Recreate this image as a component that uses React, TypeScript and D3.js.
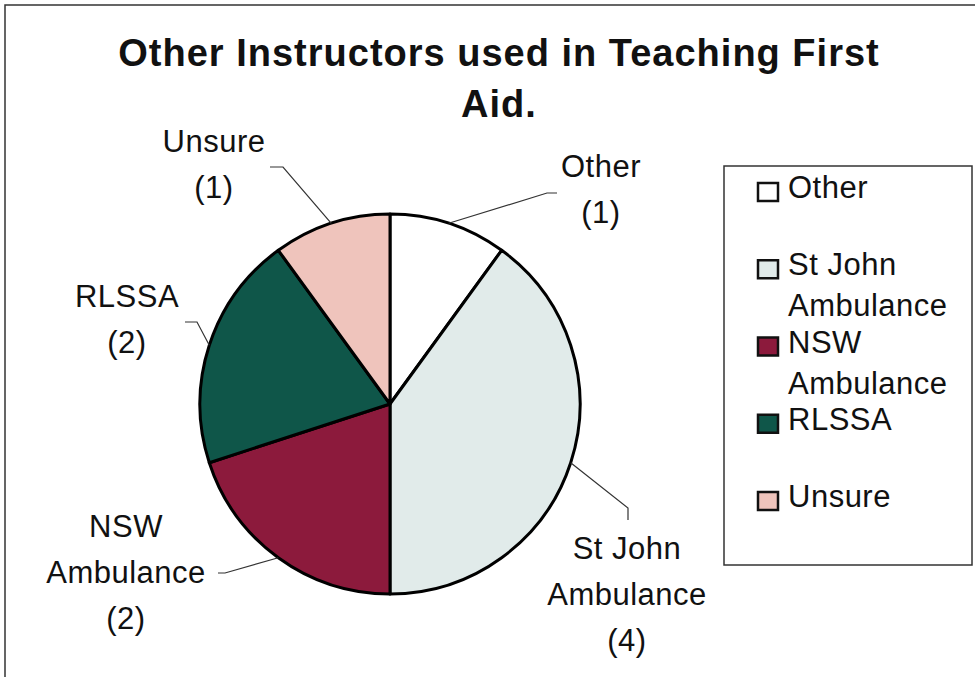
import React from 'react';
import * as d3 from 'd3';

// chart data
const categories = ['Other', 'St John Ambulance', 'NSW Ambulance', 'RLSSA', 'Unsure'];
const counts = [1, 4, 2, 2, 1];
const sliceColors = ['#ffffff', '#e1ebea', '#8c1a3c', '#0f5649', '#efc4bc'];
const legendLines = [['Other'], ['St John', 'Ambulance'], ['NSW', 'Ambulance'], ['RLSSA'], ['Unsure']];
const labelLines = [['Other', '(1)'], ['St John', 'Ambulance', '(4)'], ['NSW', 'Ambulance', '(2)'], ['RLSSA', '(2)'], ['Unsure', '(1)']];

// layout of the outside labels (text centre x, first baseline y, leader elbow + end)
const labelLayout = [
  { x: 601, y: 177, elbow: [547, 193], end: [557, 193] },
  { x: 627, y: 559, elbow: [628, 508], end: [628, 520] },
  { x: 126, y: 537, elbow: [225, 573], end: [218, 573] },
  { x: 127, y: 307, elbow: [197, 322], end: [185, 322] },
  { x: 214, y: 152, elbow: [283, 167], end: [270, 167] },
];

const W = 975;
const H = 677;
const cx = 390;
const cy = 404;
const radius = 190;
const font = '"Liberation Sans", Arial, sans-serif';

export default function App() {
  const data = categories.map((name, i) => ({ name, value: counts[i], color: sliceColors[i] }));

  const pie = d3.pie<any>().sort(null).value(d => d.value).startAngle(0).endAngle(2 * Math.PI);
  const arcs = pie(data);
  const arc = d3.arc<any>().innerRadius(0).outerRadius(radius);
  const edge = d3.arc<any>().innerRadius(radius).outerRadius(radius);

  const legendY = d3.scalePoint<string>().domain(categories).range([198, 507]);

  return (
    <svg width={W} height={H} style={{ position: 'absolute', left: 0, top: 0, background: '#fff' }}>
      {/* outer frame */}
      <rect x={5} y={5} width={W + 20} height={H + 20} fill="#fff" stroke="#333" strokeWidth={1.5} />

      {/* title */}
      <g fontFamily={font} fontWeight="bold" fontSize={38} letterSpacing={1} textAnchor="middle" fill="#111">
        <text x={499} y={66}>Other Instructors used in Teaching First</text>
        <text x={499} y={117}>Aid.</text>
      </g>

      {/* pie */}
      <g transform={`translate(${cx},${cy})`}>
        {arcs.map((a, i) => (
          <path key={i} d={arc(a) || ''} fill={a.data.color} stroke="#000" strokeWidth={3} strokeLinejoin="round" />
        ))}
      </g>

      {/* leader lines */}
      {arcs.map((a, i) => {
        const [px, py] = edge.centroid(a);
        const l = labelLayout[i];
        return (
          <polyline
            key={i}
            points={`${cx + px},${cy + py} ${l.elbow[0]},${l.elbow[1]} ${l.end[0]},${l.end[1]}`}
            fill="none"
            stroke="#333"
            strokeWidth={1.2}
          />
        );
      })}

      {/* data labels */}
      <g fontFamily={font} fontSize={31} letterSpacing={0.5} textAnchor="middle" fill="#111">
        {labelLines.map((lines, i) => (
          <text key={i}>
            {lines.map((t, j) => (
              <tspan key={j} x={labelLayout[i].x} y={labelLayout[i].y + j * 46}>{t}</tspan>
            ))}
          </text>
        ))}
      </g>

      {/* legend */}
      <rect x={724} y={166} width={248} height={399} fill="#fff" stroke="#333" strokeWidth={1.5} />
      <g fontFamily={font} fontSize={31} letterSpacing={0.5} fill="#111">
        {categories.map((c, i) => {
          const y = legendY(c) as number;
          return (
            <g key={c}>
              <rect x={758} y={y - 15} width={20} height={18} fill={sliceColors[i]} stroke="#111" strokeWidth={2.5} />
              <text>
                {legendLines[i].map((t, j) => (
                  <tspan key={j} x={788} y={y + j * 41}>{t}</tspan>
                ))}
              </text>
            </g>
          );
        })}
      </g>
    </svg>
  );
}
